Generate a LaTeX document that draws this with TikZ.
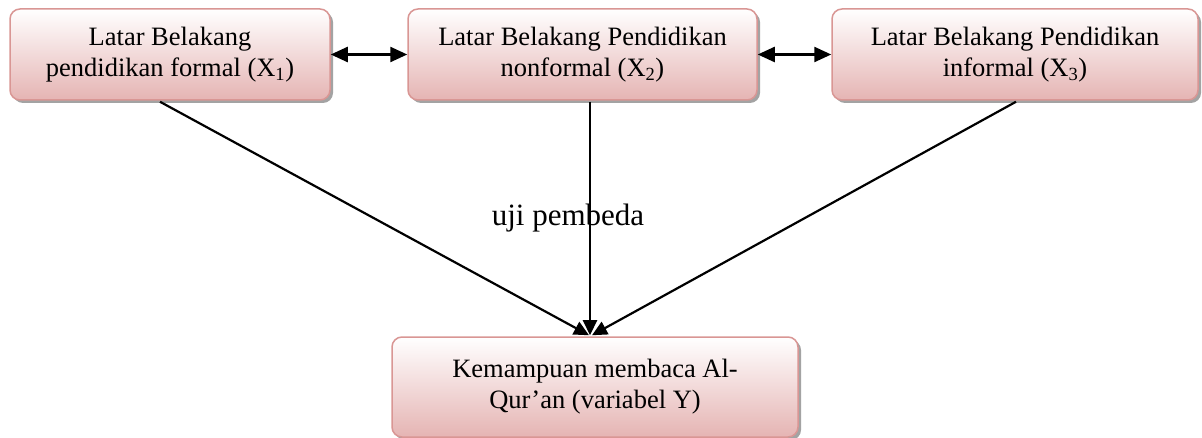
\documentclass[tikz,border=0pt]{standalone}
\usepackage{fontspec}
\setmainfont{Liberation Serif}
\usetikzlibrary{shadows,arrows.meta,calc}
\definecolor{boxborder}{RGB}{217,150,148}
\definecolor{boxbottom}{RGB}{229,180,179}
\tikzset{
  pinkbox/.style={draw=boxborder, line width=1.5pt, rounded corners=10pt,
    top color=white, bottom color=boxbottom, inner sep=0pt, align=center,
    font=\fontsize{26.5}{31}\selectfont,
    drop shadow={shadow xshift=3pt, shadow yshift=-3pt, fill=black!45, opacity=0.8}},
  dbl/.style={line width=2.4pt, {Triangle[length=17pt,width=15pt]}-{Triangle[length=17pt,width=15pt]}},
  conn/.style={line width=2.2pt, -{Triangle[length=15pt,width=14pt]}}
}
\begin{document}
\begin{tikzpicture}[x=1pt,y=-1pt]
\useasboundingbox (0,0) rectangle (1202,438);
\node[pinkbox, minimum width=320pt, minimum height=91pt] (b1) at (170,54.5)
  {Latar Belakang\\pendidikan formal (X\textsubscript{1})};
\node[pinkbox, minimum width=349pt, minimum height=91pt] (b2) at (582.5,54.5)
  {Latar Belakang Pendidikan\\nonformal (X\textsubscript{2})};
\node[pinkbox, minimum width=366pt, minimum height=91pt] (b3) at (1015,54.5)
  {Latar Belakang Pendidikan\\informal (X\textsubscript{3})};
\node[pinkbox, minimum width=406pt, minimum height=100pt] (y) at (595,387)
  {Kemampuan membaca Al-\\Qur’an (variabel Y)};
\draw[dbl] (b1.east) -- (b2.west);
\draw[dbl] (b2.east) -- (b3.west);
\coordinate (s1) at ($(b1.south)+(-10,1)$);
\coordinate (s2) at ($(b2.south)+(7.5,1)$);
\coordinate (s3) at ($(b3.south)+(1,1)$);
\coordinate (e1) at ($(y.north)+(-6,-1)$);
\coordinate (e2) at ($(y.north)+(-5,-1)$);
\coordinate (e3) at ($(y.north)+(-3,-1)$);
\draw[conn] (s1) -- (e1);
\draw[conn] (s2) -- (e2);
\draw[conn] (s3) -- (e3);
\node[anchor=base, inner sep=0pt, font=\fontsize{31}{36}\selectfont] (lbl) at (568,226) {uji pembeda};
\end{tikzpicture}
\end{document}
